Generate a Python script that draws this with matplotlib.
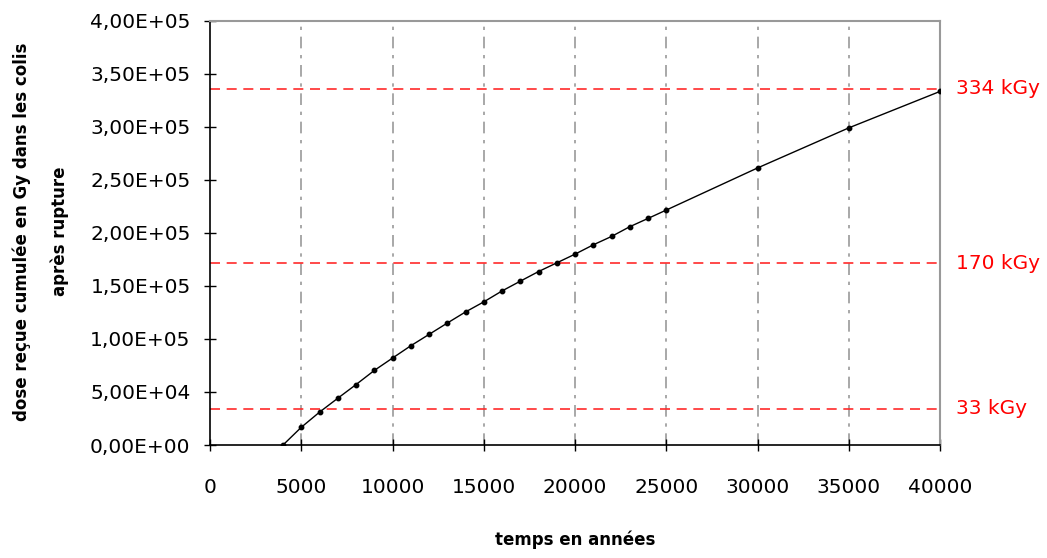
import matplotlib
matplotlib.use('Agg')
import matplotlib.pyplot as plt
from matplotlib.ticker import FuncFormatter

# data
years = [4000, 5000, 6000, 7000, 8000, 9000, 10000, 11000, 12000, 13000, 14000,
         15000, 16000, 17000, 18000, 19000, 20000, 21000, 22000, 23000, 24000,
         25000, 30000, 35000, 40000]
dose = [0, 16700, 31000, 44100, 57000, 70300, 82000, 93600, 104300, 115000, 125500,
        135000, 145300, 154500, 163600, 171800, 180000, 188800, 196700, 205900, 213700,
        221600, 261300, 299100, 333500]

# threshold lines and their labels
seuils = [34000, 171500, 336000]
seuil_labels = ['33 kGy', '170 kGy', '334 kGy']

x_ticks = list(range(0, 40001, 5000))
y_ticks = list(range(0, 400001, 50000))

plt.rcParams['font.family'] = ['DejaVu Sans']

fig = plt.figure(figsize=(10.47, 5.58), dpi=100)
ax = fig.add_axes([0.2006, 0.2025, 0.6972, 0.760])

# vertical grid
for xt in x_ticks[1:-1]:
    ax.axvline(xt, color='#999999', lw=1.2, ls=(0, (7, 4, 2, 4)), zorder=1)

# thresholds
for s, lab in zip(seuils, seuil_labels):
    ax.axhline(s, color='#ff2a2a', lw=1.2, ls=(0, (6, 4)), zorder=2)
    ax.text(1.022, s, lab, transform=ax.get_yaxis_transform(), color='red',
            fontsize=14.5, va='center', ha='left')

ax.plot(years, dose, color='black', lw=1, marker='o', ms=3.2, zorder=3)

ax.set_xlim(0, 40000)
ax.set_ylim(0, 400000)
ax.set_xticks(x_ticks)
ax.set_yticks(y_ticks)
ax.yaxis.set_major_formatter(FuncFormatter(
    lambda v, p: ('%.2E' % v).replace('.', ',')))

ax.tick_params(direction='inout', length=8, width=1, labelsize=14.5)
ax.tick_params(axis='x', pad=20)
ax.tick_params(axis='y', pad=10)

for side in ['top', 'right']:
    ax.spines[side].set_color('#999999')
    ax.spines[side].set_linewidth(1.5)
for side in ['left', 'bottom']:
    ax.spines[side].set_color('black')
    ax.spines[side].set_linewidth(1.2)

ax.set_xlabel('temps en années', fontsize=12, fontweight='bold', labelpad=24)
fig.text(0.021, 0.585, 'dose reçue cumulée en Gy dans les colis', rotation=90,
         fontsize=12, fontweight='bold', ha='center', va='center')
fig.text(0.057, 0.585, 'après rupture', rotation=90,
         fontsize=12, fontweight='bold', ha='center', va='center')

fig.savefig('out.png', dpi=100)
